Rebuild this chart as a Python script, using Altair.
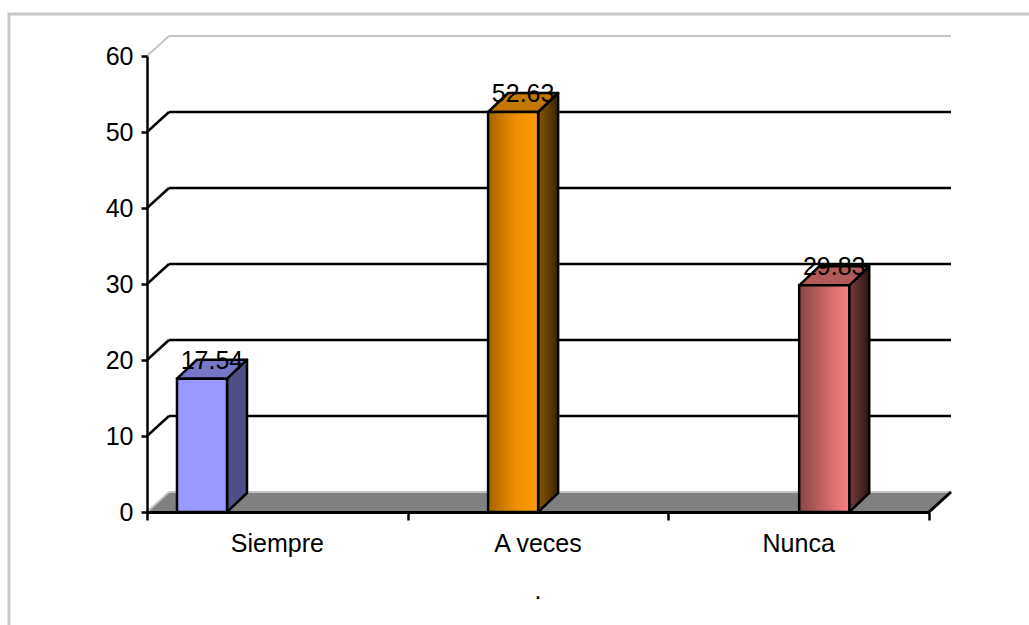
import altair as alt
import pandas as pd

# ---- data ----
categories = ["Siempre", "A veces", "Nunca"]
values = [17.54, 52.63, 29.83]
value_labels = ["17.54", "52.63", "29.83"]
series_slot = [0, 1, 2]          # each category holds one series, in its own slot
y_ticks = [0, 10, 20, 30, 40, 50, 60]
grid_values = [10, 20, 30, 40, 50]
caption = "."

# ---- styling / 3-D geometry (data units) ----
XMAX = 3
YMAX = 60
DX, DY = 0.0844, 2.63        # depth of walls
BDX, BDY = 0.0767, 2.5       # depth of columns
BAR_W = 0.192
SLOT0 = 0.115
SLOT_STEP = 0.1935
FONT = "Liberation Sans"
FS = 25
LW = 2.5

front_fill = [
    "#9999FF",
    alt.LinearGradient(gradient="linear", x1=0, x2=1, y1=0, y2=0,
                       stops=[alt.GradientStop(offset=0, color="#A86400"),
                              alt.GradientStop(offset=0.55, color="#EE8E00"),
                              alt.GradientStop(offset=1, color="#FF9C00")]),
    alt.LinearGradient(gradient="linear", x1=0, x2=1, y1=0, y2=0,
                       stops=[alt.GradientStop(offset=0, color="#8A4646"),
                              alt.GradientStop(offset=1, color="#FF8282")]),
]
side_fill = [
    "#4F4F88",
    alt.LinearGradient(gradient="linear", x1=0, x2=1, y1=0, y2=0,
                       stops=[alt.GradientStop(offset=0, color="#8A5500"),
                              alt.GradientStop(offset=1, color="#3A2400")]),
    alt.LinearGradient(gradient="linear", x1=0, x2=1, y1=0, y2=0,
                       stops=[alt.GradientStop(offset=0, color="#7A3C3C"),
                              alt.GradientStop(offset=1, color="#2C1414")]),
]
top_fill = ["#7777C8", "#C27800", "#B05A5A"]

XAXIS = alt.Axis(values=[0, 1, 2, 3], labels=False, title=None, grid=False,
                 domainColor="black", domainWidth=3, tickColor="black",
                 tickWidth=2.5, tickSize=8, zindex=1)
YAXIS = alt.Axis(values=y_ticks, title=None, grid=False, domainColor="black",
                 domainWidth=2.5, tickColor="black", tickWidth=2.5, tickSize=6,
                 labelFont=FONT, labelFontSize=FS, labelColor="black",
                 labelPadding=8, zindex=1)


def X(f):
    return alt.X(f, type="quantitative",
                 scale=alt.Scale(domain=[0, XMAX], nice=False, zero=False),
                 axis=XAXIS)


def Y(f):
    return alt.Y(f, type="quantitative",
                 scale=alt.Scale(domain=[0, YMAX], nice=False, zero=False),
                 axis=YAXIS)


# ---- tables built from the lists ----
xl = [i + SLOT0 + SLOT_STEP * s for i, s in enumerate(series_slot)]
bars = pd.DataFrame({
    "cat": categories, "v": values, "label": value_labels,
    "xl": xl, "xr": [a + BAR_W for a in xl],
})
bars["lx"] = (bars["xl"] + bars["xr"]) / 2 + BDX / 2
bars["zero"] = 0.0

side_rows, top_rows = [], []
for c, v, a, b in zip(bars["cat"], bars["v"], bars["xl"], bars["xr"]):
    side_rows += [{"cat": c, "x": b, "y0": 0, "y1": v},
                  {"cat": c, "x": b + BDX, "y0": BDY, "y1": v + BDY}]
    top_rows += [{"cat": c, "y": v, "xa": a, "xb": b},
                 {"cat": c, "y": v + BDY, "xa": a + BDX, "xb": b + BDX}]
side = pd.DataFrame(side_rows)
top = pd.DataFrame(top_rows)

floor = pd.DataFrame({"y": [0, DY], "xa": [0, DX], "xb": [XMAX, XMAX + DX]})
grid = pd.DataFrame({"g": grid_values})
grid["gb"] = grid["g"] + DY
grid["x0"] = DX
grid["x1"] = XMAX + DX
grid["xz"] = 0.0

wall = pd.DataFrame({
    "x0": [DX, 0, DX, 0],
    "x1": [XMAX + DX, DX, XMAX + DX, DX],
    "y0": [YMAX + DY, YMAX, DY, 0],
    "y1": [YMAX + DY, YMAX + DY, DY, DY],
})
floor_edge = pd.DataFrame({"x0": [XMAX], "x1": [XMAX + DX], "y0": [0], "y1": [DY]})
cats = pd.DataFrame({"cat": categories, "cx": [i + 0.5 for i in range(len(categories))],
                     "cy": 0.0})
cap = pd.DataFrame({"t": [caption], "cx": [XMAX / 2], "cy": [0.0]})
one = pd.DataFrame({"a": [0]})

# ---- layers ----
frame = alt.Chart(one).mark_rect(fillOpacity=0, stroke="#C8C8C8", strokeWidth=3).encode(
    x=alt.value(-138), x2=alt.value(910), y=alt.value(-42), y2=alt.value(600))

floor_l = alt.Chart(floor).mark_area(orient="horizontal", color="#808080").encode(
    y=Y("y"), x=X("xa"), x2="xb")

grid_back = alt.Chart(grid).mark_rule(color="black", strokeWidth=LW).encode(
    x=X("x0"), x2="x1", y=Y("gb"))
grid_diag = alt.Chart(grid).mark_rule(color="black", strokeWidth=LW).encode(
    x=X("xz"), x2="x0", y=Y("g"), y2="gb")

wall_l = alt.Chart(wall).mark_rule(color="#C4C4C4", strokeWidth=2).encode(
    x=X("x0"), x2="x1", y=Y("y0"), y2="y1")
floor_edge_l = alt.Chart(floor_edge).mark_rule(color="black", strokeWidth=3).encode(
    x=X("x0"), x2="x1", y=Y("y0"), y2="y1")

bar_layers = []
for i, c in enumerate(categories):
    bar_layers.append(
        alt.Chart(side).transform_filter(alt.datum.cat == c)
        .mark_area(fill=side_fill[i], stroke="black", strokeWidth=LW, strokeJoin="round")
        .encode(x=X("x"), y=Y("y0"), y2="y1"))
    bar_layers.append(
        alt.Chart(top).transform_filter(alt.datum.cat == c)
        .mark_area(orient="horizontal", fill=top_fill[i], stroke="black",
                   strokeWidth=LW, strokeJoin="round")
        .encode(y=Y("y"), x=X("xa"), x2="xb"))
    bar_layers.append(
        alt.Chart(bars).transform_filter(alt.datum.cat == c)
        .mark_rect(fill=front_fill[i], stroke="black", strokeWidth=LW)
        .encode(x=X("xl"), x2="xr", y=Y("zero"), y2="v"))

labels = alt.Chart(bars).mark_text(font=FONT, fontSize=FS, color="black",
                                   baseline="alphabetic", dy=-10).encode(
    x=X("lx"), y=Y("v"), text="label")
cat_l = alt.Chart(cats).mark_text(font=FONT, fontSize=FS, color="black",
                                  baseline="alphabetic", dy=40).encode(
    x=X("cx"), y=Y("cy"), text="cat")
cap_l = alt.Chart(cap).mark_text(font=FONT, fontSize=FS, color="black",
                                 baseline="alphabetic", dy=87).encode(
    x=X("cx"), y=Y("cy"), text="t")

chart = alt.layer(
    frame, floor_l, wall_l, grid_back, grid_diag, floor_edge_l,
    *bar_layers, labels, cat_l, cap_l
).properties(
    width=782, height=456,
    autosize=alt.AutoSizeParams(type="none"),
    padding={"left": 147, "top": 56, "right": 100, "bottom": 113},
    background="white",
).configure_view(stroke=None)

chart.save("out.html", embed_options={"renderer": "svg", "actions": False})
